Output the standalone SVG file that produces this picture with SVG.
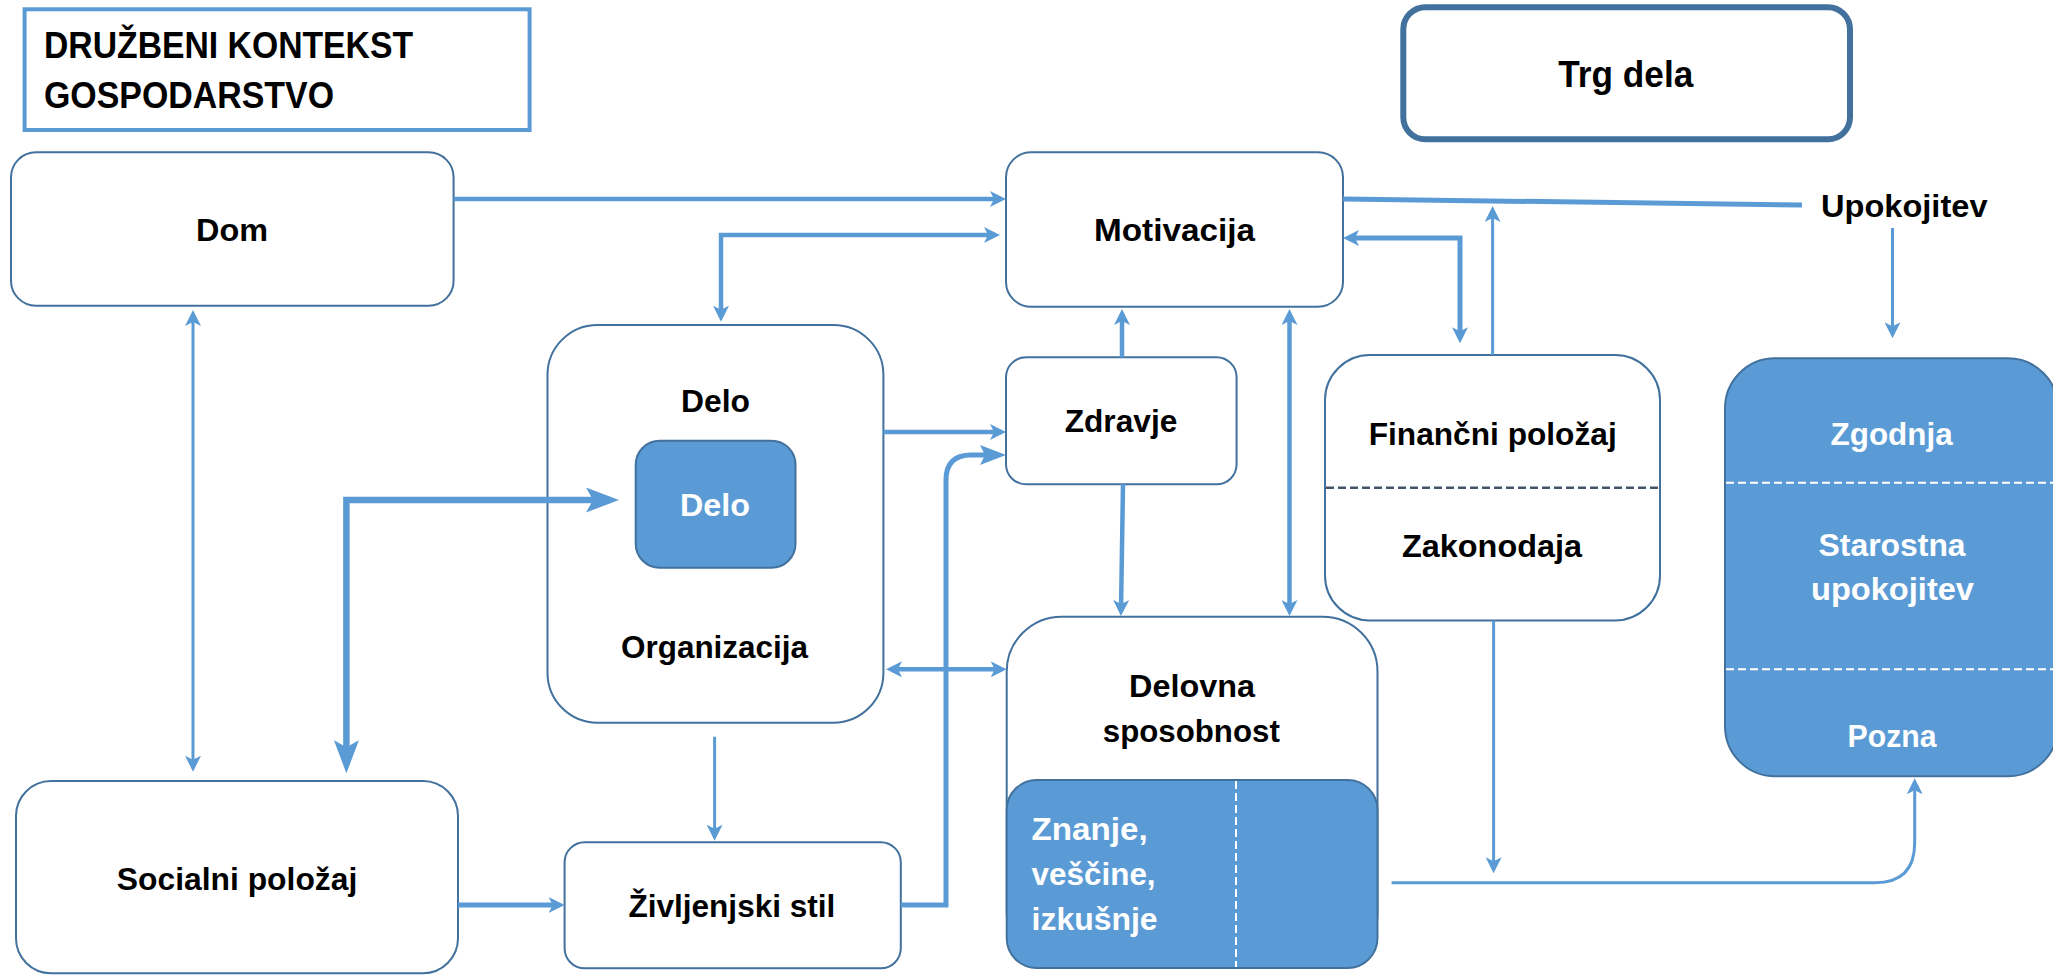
<svg xmlns="http://www.w3.org/2000/svg" width="2053" height="975" viewBox="0 0 2053 975">
<style>
.box{fill:#ffffff;stroke:#41719C;stroke-width:2}
.fill{fill:#5B9BD5;stroke:#41719C;stroke-width:2}
.t{font-family:"Liberation Sans",Arial,sans-serif;font-weight:bold;font-size:31px;fill:#000000}
.w{fill:#ffffff}
.big{font-size:37px}
.c{fill:none;stroke:#5B9BD5;stroke-linejoin:miter}
.s3{stroke-width:3}
.s4{stroke-width:4.5}
.s5{stroke-width:5}
.s6{stroke-width:6.5}
.wd{stroke:#ffffff;stroke-width:2;stroke-dasharray:8 4}
.gd{stroke:#44546A;stroke-width:2.5;stroke-dasharray:8 4}
</style>
<defs>
<marker id="m" viewBox="0 0 16 16" markerWidth="16" markerHeight="16" refX="11" refY="8" markerUnits="userSpaceOnUse" orient="auto-start-reverse">
<path d="M0,0 L16,8 L0,16 L4,8 Z" fill="#5B9BD5"/>
</marker>
<marker id="ml" viewBox="0 0 26 20" markerWidth="26" markerHeight="20" refX="19" refY="10" markerUnits="userSpaceOnUse" orient="auto-start-reverse">
<path d="M0,0 L26,10 L0,20 L5,10 Z" fill="#5B9BD5"/>
</marker>
<marker id="mb" viewBox="0 0 33 25" markerWidth="33" markerHeight="25" refX="24" refY="12.5" markerUnits="userSpaceOnUse" orient="auto-start-reverse">
<path d="M0,0 L33,12.5 L0,25 L7,12.5 Z" fill="#5B9BD5"/>
</marker>
</defs>
<rect width="2053" height="975" fill="#ffffff"/>

<g id="header">
<rect x="24.6" y="9.3" width="505" height="120.7" fill="#ffffff" stroke="#5B9BD5" stroke-width="4"/>
<text class="t big" x="44" y="58.3" textLength="369" lengthAdjust="spacingAndGlyphs">DRUŽBENI KONTEKST</text>
<text class="t big" x="44" y="108.3" textLength="290" lengthAdjust="spacingAndGlyphs">GOSPODARSTVO</text>
</g>

<g id="trg-dela">
<rect x="1403.3" y="7.3" width="446.7" height="132" rx="22" fill="#ffffff" stroke="#41719C" stroke-width="6"/>
<text class="t" style="font-size:36px" x="1558.3" y="87.3" textLength="135" lengthAdjust="spacingAndGlyphs">Trg dela</text>
</g>

<g id="dom">
<rect class="box" x="11" y="152.3" width="442.6" height="153.4" rx="25"/>
<text class="t" x="196" y="240.7" textLength="72" lengthAdjust="spacingAndGlyphs">Dom</text>
</g>

<g id="motivacija">
<rect class="box" x="1006" y="152.3" width="337" height="154.4" rx="25"/>
<text class="t" x="1094" y="240.7" textLength="161" lengthAdjust="spacingAndGlyphs">Motivacija</text>
</g>

<g id="upokojitev">
<text class="t" x="1821" y="216.7" textLength="166.5" lengthAdjust="spacingAndGlyphs">Upokojitev</text>
</g>

<g id="delo-organizacija">
<rect class="box" x="547.5" y="325" width="335.9" height="397.7" rx="50"/>
<text class="t" x="681" y="411.7" textLength="69" lengthAdjust="spacingAndGlyphs">Delo</text>
<text class="t" x="621" y="658.3" textLength="187" lengthAdjust="spacingAndGlyphs">Organizacija</text>
</g>

<g id="delo-inner">
<rect class="fill" x="635.7" y="440.7" width="159.8" height="127" rx="24"/>
<text class="t w" x="680" y="516" textLength="70" lengthAdjust="spacingAndGlyphs">Delo</text>
</g>

<g id="zdravje">
<rect class="box" x="1006" y="357.3" width="230.6" height="127" rx="20"/>
<text class="t" x="1064.7" y="431.7" textLength="112.6" lengthAdjust="spacingAndGlyphs">Zdravje</text>
</g>

<g id="financni">
<rect class="box" x="1325" y="355" width="335" height="265.5" rx="45"/>
<line class="gd" x1="1326" y1="487.7" x2="1659" y2="487.7"/>
<text class="t" x="1368.7" y="445" textLength="248" lengthAdjust="spacingAndGlyphs">Finančni položaj</text>
<text class="t" x="1402" y="556.7" textLength="180" lengthAdjust="spacingAndGlyphs">Zakonodaja</text>
</g>

<g id="upokojitev-vrste">
<rect class="fill" x="1725" y="358.3" width="333" height="418" rx="50"/>
<line class="wd" x1="1726" y1="482.7" x2="2053" y2="482.7"/>
<line class="wd" x1="1726" y1="669.3" x2="2053" y2="669.3"/>
<text class="t w" x="1830.6" y="445" textLength="122" lengthAdjust="spacingAndGlyphs">Zgodnja</text>
<text class="t w" x="1818.6" y="556" textLength="147" lengthAdjust="spacingAndGlyphs">Starostna</text>
<text class="t w" x="1811" y="600" textLength="163" lengthAdjust="spacingAndGlyphs">upokojitev</text>
<text class="t w" x="1847.6" y="746.7" textLength="89" lengthAdjust="spacingAndGlyphs">Pozna</text>
</g>

<g id="delovna-sposobnost">
<rect class="box" x="1006.7" y="616.7" width="370.8" height="351.3" rx="55"/>
<rect class="fill" x="1006.7" y="780" width="370.8" height="188" rx="30"/>
<line class="wd" x1="1236" y1="781" x2="1236" y2="967"/>
<text class="t" x="1129" y="696.7" textLength="126" lengthAdjust="spacingAndGlyphs">Delovna</text>
<text class="t" x="1102.8" y="741.7" textLength="177" lengthAdjust="spacingAndGlyphs">sposobnost</text>
<text class="t w" x="1031.6" y="840" textLength="116" lengthAdjust="spacingAndGlyphs">Znanje,</text>
<text class="t w" x="1031.6" y="885" textLength="124" lengthAdjust="spacingAndGlyphs">veščine,</text>
<text class="t w" x="1031.6" y="930" textLength="126" lengthAdjust="spacingAndGlyphs">izkušnje</text>
</g>

<g id="socialni">
<rect class="box" x="16" y="781" width="442" height="192.3" rx="35"/>
<text class="t" x="116.8" y="890" textLength="240.5" lengthAdjust="spacingAndGlyphs">Socialni položaj</text>
</g>

<g id="zivljenjski">
<rect class="box" x="564.6" y="842.3" width="336.2" height="126" rx="20"/>
<text class="t" x="628.4" y="916.7" textLength="207" lengthAdjust="spacingAndGlyphs">Življenjski stil</text>
</g>

<g id="connectors">
<path class="c s4" d="M453.6,199 H1001" marker-end="url(#m)"/>
<path class="c s4" d="M721,316.7 V235 H995" marker-start="url(#m)" marker-end="url(#m)"/>
<path class="c s5" d="M1343,199 L1802,205"/>
<path class="c s5" d="M1460,338.3 V238 H1348" marker-start="url(#m)" marker-end="url(#m)"/>
<path class="c s3" d="M1492.6,355 V211" marker-end="url(#m)"/>
<path class="c s3" d="M1892.5,228 V333.3" marker-end="url(#m)"/>
<path class="c s4" d="M1122,357.3 V314" marker-end="url(#m)"/>
<path class="c s4" d="M1289.5,314 V611" marker-start="url(#m)" marker-end="url(#m)"/>
<path class="c s4" d="M1123,484.3 L1121,611" marker-end="url(#m)"/>
<path class="c s4" d="M883.4,432 H1001" marker-end="url(#m)"/>
<path class="c s5" d="M900.8,905 H946 V480 Q946,455 971,455 H999" marker-end="url(#ml)"/>
<path class="c s4" d="M891,669.3 H1001.7" marker-start="url(#m)" marker-end="url(#m)"/>
<path class="c s3" d="M714.6,736.7 V835.7" marker-end="url(#m)"/>
<path class="c s5" d="M458,905 H559.6" marker-end="url(#m)"/>
<path class="c s3" d="M193,315 V766.7" marker-start="url(#m)" marker-end="url(#m)"/>
<path class="c s6" d="M346.4,764.3 V500 H610" marker-start="url(#mb)" marker-end="url(#mb)"/>
<path class="c s3" d="M1493.6,620.5 V868.3" marker-end="url(#m)"/>
<path class="c s3" d="M1391.6,882.7 H1874.7 Q1914.7,882.7 1914.7,842.7 V783.3" marker-end="url(#m)"/>
</g>
</svg>
